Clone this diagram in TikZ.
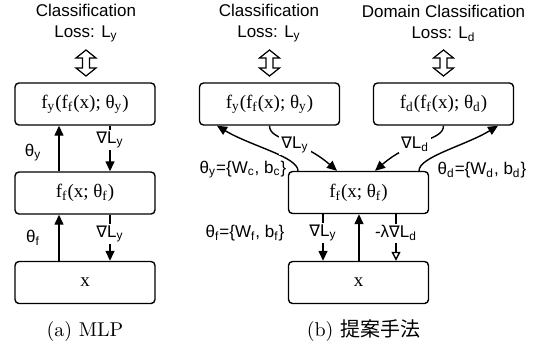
\documentclass[tikz,border=0pt]{standalone}
\usepackage{fontspec}
\newfontfamily\labf{Liberation Sans}
\newfontfamily\boxfont{Liberation Serif}
\newfontfamily\symf{DejaVu Sans}
\newfontfamily\cjk{Noto Sans CJK JP}
\usetikzlibrary{arrows.meta}
\newcommand{\nab}{{\symf\fontsize{8}{10}\selectfont ∇}}
\newcommand{\sbs}[1]{\textsubscript{#1}}
\begin{document}
\begin{tikzpicture}[x=0.5pt,y=-0.5pt, line width=0.7pt,
  blk/.style={draw, rounded corners=2pt, minimum width=70pt, minimum height=21pt, inner sep=0pt,
    font=\boxfont\fontsize{9.5}{11}\selectfont},
  lbl/.style={font=\labf\fontsize{8.5}{10.5}\selectfont, inner sep=1pt},
  onl/.style={lbl, fill=white},
  arr/.style={-{Triangle[length=5pt,width=4.5pt]}},
  harr/.style={-{Triangle[open,length=4.5pt,width=4.5pt]}},
  captxt/.style={font=\fontsize{10}{12}\selectfont, inner sep=0pt},
  dbl/.style={line width=0.6pt, fill=white}
]
\useasboundingbox (0,0) rectangle (539,349);

% ---------- (a) MLP ----------
\node[lbl, align=center] (tA) at (86,23) {Classification\\Loss: L\sbs{y}};
\node[blk] (fyA) at (85,104) {f\sbs{y}(f\sbs{f}(x); θ\sbs{y})};
\node[blk] (ffA) at (85,193) {f\sbs{f}(x; θ\sbs{f})};
\node[blk] (xA)  at (85,282.5) {x};

\draw[arr] (59,0 |- ffA.north) -- (59,0 |- fyA.south);
\node[lbl] (thyA) at (33,153) {θ\sbs{y}};
\draw[arr] (110,0 |- fyA.south) -- node[onl,pos=0.32] (gA1) {\nab L\sbs{y}} (110,0 |- ffA.north);

\draw[arr] (59,0 |- xA.north) -- (59,0 |- ffA.south);
\node[lbl] (thfA) at (33,238) {θ\sbs{f}};
\draw[arr] (110,0 |- ffA.south) -- node[onl,pos=0.41] (gA2) {\nab L\sbs{y}} (110,0 |- xA.north);

\node[captxt] (capA) at (85,331) {(a) MLP};

% ---------- (b) ----------
\node[lbl, align=center] (tB1) at (269,23) {Classification\\Loss: L\sbs{y}};
\node[lbl, align=center] (tB2) at (443.5,23) {Domain Classification\\Loss: L\sbs{d}};
\node[blk] (fyB) at (269.5,104) {f\sbs{y}(f\sbs{f}(x); θ\sbs{y})};
\node[blk] (fdB) at (443.5,104) {f\sbs{d}(f\sbs{f}(x); θ\sbs{d})};
\node[blk] (ffB) at (358.5,192.5) {f\sbs{f}(x; θ\sbs{f})};
\node[blk] (xB)  at (358.5,282.5) {x};

% double arrows
\foreach \cx in {86,269.5,443.5}{
  \draw[dbl] (\cx,50) -- (\cx+10,58) -- (\cx+3.5,58) -- (\cx+3.5,68) -- (\cx+10,68)
    -- (\cx,76) -- (\cx-10,68) -- (\cx-3.5,68) -- (\cx-3.5,58) -- (\cx-10,58) -- cycle;
}

% upper curves
\draw[arr] (298,0 |- ffB.north) .. controls +(0,-14) and +(33,20) .. (217,0 |- fyB.south);
\draw[arr] (269.5,0 |- fyB.south) .. controls +(0,15) and +(-37,-32) .. (337,0 |- ffB.north);
\node[onl] (gB1) at (295,145) {\nab L\sbs{y}};
\draw[arr] (443.5,0 |- fdB.south) .. controls +(0,15) and +(37,-32) .. (375,0 |- ffB.north);
\node[onl] (gB2) at (415,144) {\nab L\sbs{d}};
\draw[arr] (419,0 |- ffB.north) .. controls +(0,-14) and +(-33,20) .. (498,0 |- fdB.south);

\node[lbl] (thyB) at (243,170) {θ\sbs{y}=\{W\sbs{c}, b\sbs{c}\}};
\node[lbl] (thdB) at (482,170) {θ\sbs{d}=\{W\sbs{d}, b\sbs{d}\}};
\node[lbl] (thfB) at (245,233) {θ\sbs{f}=\{W\sbs{f}, b\sbs{f}\}};

% lower arrows
\draw[arr] (323,0 |- ffB.south) -- node[onl,pos=0.41] (gB3) {\nab L\sbs{y}} (323,0 |- xB.north);
\draw[arr] (359,0 |- xB.north) -- (359,0 |- ffB.south);
\draw[harr] (396,0 |- ffB.south) -- node[onl,pos=0.41] (gB4) {-λ\nab L\sbs{d}} (396,0 |- xB.north);

\node[captxt] (capB) at (363.5,331) {(b) {\cjk 提案手法}};
\end{tikzpicture}
\end{document}
